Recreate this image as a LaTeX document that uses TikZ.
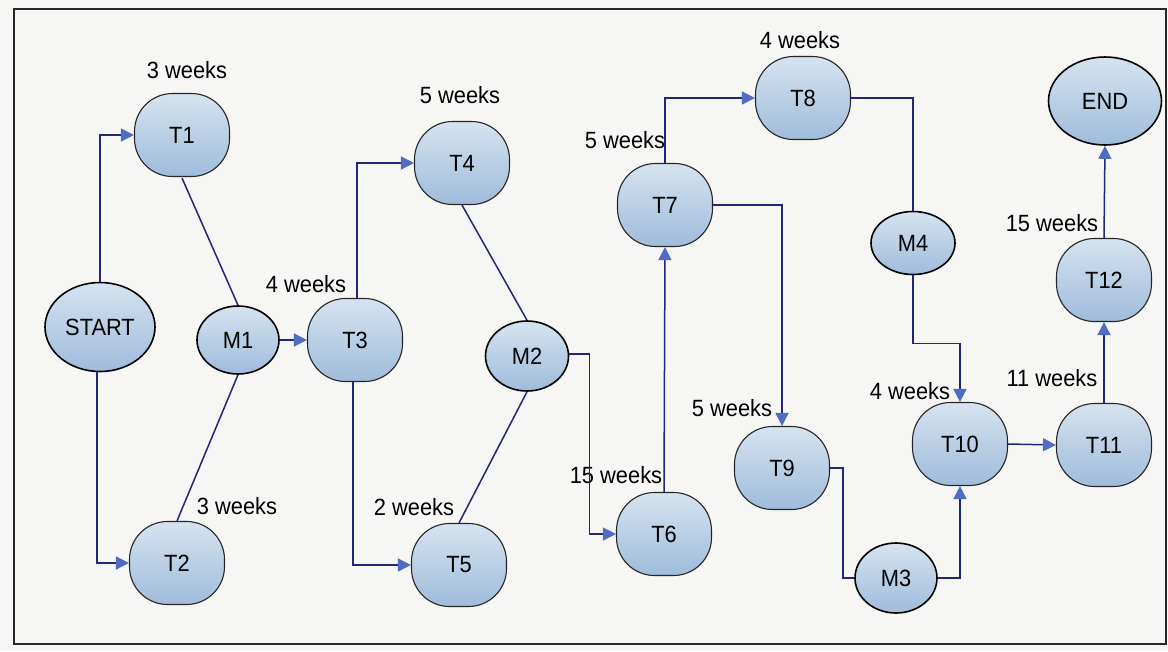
\documentclass[tikz,border=0pt]{standalone}
\usepackage{fontspec}
\setmainfont[FakeStretch=0.93]{Liberation Sans}
\usetikzlibrary{shapes.geometric,arrows.meta}
\definecolor{linenavy}{HTML}{24267A}
\definecolor{arrowblue}{HTML}{4F6CC2}
\definecolor{topfill}{HTML}{D6E3F0}
\definecolor{botfill}{HTML}{9FBCDB}
\definecolor{paper}{HTML}{F6F6F4}
\tikzset{
  task/.style={rectangle, rounded corners=38pt, minimum width=95pt, minimum height=83pt,
    draw=black!85, line width=1.1pt, top color=topfill, bottom color=botfill, inner sep=0pt,
    font=\fontsize{23.5}{26}\selectfont},
  milestone/.style={ellipse, draw=black, line width=1.6pt, top color=topfill, bottom color=botfill,
    inner sep=0pt, font=\fontsize{23.5}{26}\selectfont},
  dur/.style={inner sep=0pt, font=\fontsize{23.5}{26}\selectfont},
  link/.style={draw=linenavy, line width=1.5pt},
  arr/.style={link, -{Triangle[length=13pt,width=13pt,color=arrowblue]}},
}
\begin{document}
\begin{tikzpicture}[x=1pt,y=-1pt]
\fill[paper] (0,0) rectangle (1168,651);
\useasboundingbox (0,0) rectangle (1168,651);
\draw[line width=1.3pt, black!85] (14,9) rectangle (1166,644);

% nodes
\node[milestone, minimum width=110pt, minimum height=89pt] (START) at (100,327) {START};
\node[task] (T1) at (182,135) {T1};
\node[task] (T2) at (177,563) {T2};
\node[milestone, minimum width=82pt, minimum height=68pt] (M1) at (238,340) {M1};
\node[task] (T3) at (355,340) {T3};
\node[task] (T4) at (462,163) {T4};
\node[task] (T5) at (459,565) {T5};
\node[milestone, minimum width=83pt, minimum height=70pt] (M2) at (527,356) {M2};
\node[task] (T6) at (664,534) {T6};
\node[task] (T7) at (665,205) {T7};
\node[task] (T8) at (803,98) {T8};
\node[task] (T9) at (782,468) {T9};
\node[milestone, minimum width=84pt, minimum height=63pt] (M4) at (913,243) {M4};
\node[milestone, minimum width=82pt, minimum height=70pt] (M3) at (896,578) {M3};
\node[task] (T10) at (960,444) {T10};
\node[task] (T11) at (1104,445) {T11};
\node[task] (T12) at (1104,280) {T12};
\node[milestone, minimum width=113pt, minimum height=88pt] (END) at (1105,101) {END};

% durations
\node[dur] (d1) at (187,70) {3 weeks};
\node[dur] (d2) at (237,506) {3 weeks};
\node[dur] (d3) at (306,284) {4 weeks};
\node[dur] (d4) at (460,95) {5 weeks};
\node[dur] (d5) at (414,507) {2 weeks};
\node[dur] (d6) at (616,475) {15 weeks};
\node[dur] (d7) at (625,140) {5 weeks};
\node[dur] (d8) at (800,40) {4 weeks};
\node[dur] (d9) at (732,408) {5 weeks};
\node[dur] (d10) at (910,391) {4 weeks};
\node[dur] (d11) at (1052,378) {11 weeks};
\node[dur] (d12) at (1052,223) {15 weeks};

% connectors
\draw[arr] (START.north) |- (T1.west);
\draw[arr] ([xshift=-3pt]START.south) |- (T2.west);
\draw[link] ([yshift=-1pt]T1.south) -- (M1.north);
\draw[link] (T2.north) -- (M1.south);
\draw[arr] (M1.east) -- (T3.west);
\draw[arr] ([xshift=2pt]T3.north) |- (T4.west);
\draw[arr] ([xshift=-2pt]T3.south) |- (T5.west);
\draw[link] (T4.south) -- (M2.north);
\draw[link] (T5.north) -- (M2.south);
\draw[arr] ([yshift=2pt]M2.east) -- ++(20,0) |- (T6.west);
\draw[arr] (T6.north) -- (T7.south);
\draw[arr] (T7.north) |- (T8.west);
\draw[arr] (T7.east) -| (T9.north);
\draw[link] (T8.east) -| (M4.north);
\draw[arr] (M4.south) -- ++(0,68) -| (T10.north);
\draw[link] (T9.east) -- ++(13,0) |- (M3.west);
\draw[arr] (M3.east) -| (T10.south);
\draw[arr] (T10.east) -- (T11.west);
\draw[arr] (T11.north) -- (T12.south);
\draw[arr] (T12.north) -- (END.south);
\end{tikzpicture}
\end{document}
